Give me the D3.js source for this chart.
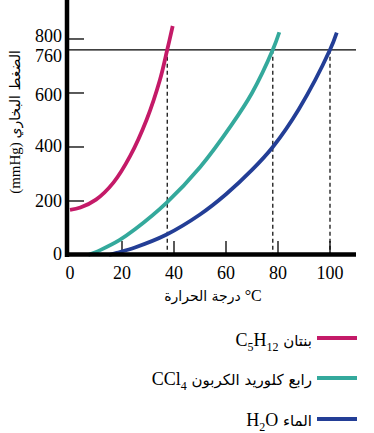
<!DOCTYPE html>
<html><head><meta charset="utf-8">
<script src="https://cdn.jsdelivr.net/npm/d3@7"></script>
<style>
html,body{margin:0;padding:0;background:#fff;}
svg{display:block;}
.num{font-family:"Liberation Serif","Times New Roman",serif;}
.ar{font-family:"DejaVu Sans",sans-serif;}
</style></head>
<body>
<svg id="chart" width="374" height="433"></svg>
<script>
// ---- data ----
const xTicks = [0, 20, 40, 60, 80, 100];
const yTicks = [0, 200, 400, 600, 800];
const refPressure = 760;
const boilingPoints = [37.4, 78, 100];

const pentaneT = [0, 4, 10, 16.7, 23.1, 29.5, 34.6, 37.4, 39.5];
const pentaneP = [167, 176, 205, 268, 366, 502, 649, 760, 848];

const cclT = [7, 12, 19, 25, 37, 50, 62, 70, 78, 80.5];
const cclP = [0, 20, 55, 95, 192, 325, 480, 600, 760, 825];

const waterT = [15, 18, 25, 37, 50, 60, 70, 78, 88, 100, 102.6];
const waterP = [0, 8, 28, 75, 150, 225, 315, 400, 540, 760, 824];

const seriesNames = ["pentane", "ccl4", "water"];
const seriesColors = ["#c41a68", "#34a99c", "#233e96"];

// ---- setup ----
const svg = d3.select("#chart");
const x = d3.scaleLinear().domain([0, 110]).range([70, 356]);
const y = d3.scaleLinear().domain([0, 944.4]).range([255, 0]);

const series = [
  {t: pentaneT, p: pentaneP},
  {t: cclT, p: cclP},
  {t: waterT, p: waterP}
];

// 760 reference line
svg.append("line")
  .attr("x1", 67).attr("x2", x(110))
  .attr("y1", y(refPressure)).attr("y2", y(refPressure))
  .attr("stroke", "#000").attr("stroke-width", 1.3);

// dashed boiling-point lines
svg.selectAll("line.bp").data(boilingPoints).enter().append("line")
  .attr("class", "bp")
  .attr("x1", d => x(d)).attr("x2", d => x(d))
  .attr("y1", y(refPressure)).attr("y2", y(0))
  .attr("stroke", "#000").attr("stroke-width", 1.2)
  .attr("stroke-dasharray", "4,3");

// y axis ticks (inner)
svg.selectAll("line.yt").data(yTicks.filter(d => d > 0)).enter().append("line")
  .attr("class", "yt")
  .attr("x1", 67).attr("x2", 84)
  .attr("y1", d => y(d)).attr("y2", d => y(d))
  .attr("stroke", "#000").attr("stroke-width", 1.3);

// x axis ticks (inner)
svg.selectAll("line.xt").data(xTicks.filter(d => d > 0)).enter().append("line")
  .attr("class", "xt")
  .attr("x1", d => x(d)).attr("x2", d => x(d))
  .attr("y1", 241).attr("y2", y(0))
  .attr("stroke", "#000").attr("stroke-width", 1.3);

// curves
const line = d3.line().x(d => x(d[0])).y(d => y(d[1])).curve(d3.curveCatmullRom.alpha(0.5));
series.forEach((s, i) => {
  svg.append("path")
    .datum(s.t.map((t, j) => [t, s.p[j]]))
    .attr("d", line)
    .attr("fill", "none")
    .attr("stroke", seriesColors[i])
    .attr("stroke-width", 3.8);
});

// axes lines
svg.append("line").attr("x1", 67).attr("x2", 67).attr("y1", 0).attr("y2", 257)
  .attr("stroke", "#000").attr("stroke-width", 4.5);
svg.append("line").attr("x1", 65).attr("x2", x(110)).attr("y1", 254.5).attr("y2", 254.5)
  .attr("stroke", "#000").attr("stroke-width", 4.5);

// y tick labels
const yLabelOffset = {0: 5, 200: 6, 400: 5, 600: 8, 800: 3};
svg.selectAll("text.yl").data(yTicks).enter().append("text")
  .attr("class", "num yl")
  .attr("x", 62).attr("y", d => y(d) + yLabelOffset[d])
  .attr("text-anchor", "end").attr("font-size", 18).attr("fill", "#000")
  .text(d => d);
svg.append("text").attr("class", "num")
  .attr("x", 62).attr("y", y(refPressure) + 12)
  .attr("text-anchor", "end").attr("font-size", 18)
  .text(refPressure);

// x tick labels
svg.selectAll("text.xl").data(xTicks).enter().append("text")
  .attr("class", "num xl")
  .attr("x", d => x(d)).attr("y", 279)
  .attr("text-anchor", "middle").attr("font-size", 18)
  .text(d => d);

// x title
const xt = svg.append("text").attr("x", 213).attr("y", 301).attr("text-anchor", "middle");
xt.append("tspan").attr("class", "ar").attr("font-size", 14).text("درجة الحرارة");
xt.append("tspan").attr("class", "num").attr("font-size", 16).text(" °C");

// y title
const yt = svg.append("text").attr("transform", "translate(20,122) rotate(-90)").attr("text-anchor", "middle");
yt.append("tspan").attr("class", "num").attr("font-size", 15).text("(mmHg) ");
yt.append("tspan").attr("class", "ar").attr("font-size", 14).text("الضغط البخاري");

// legend
const legY = [338, 378, 419];
seriesNames.forEach((n, i) => {
  svg.append("line").attr("x1", 317).attr("x2", 357)
    .attr("y1", legY[i]).attr("y2", legY[i])
    .attr("stroke", seriesColors[i]).attr("stroke-width", 4);
});
function sub(t, s){ t.append("tspan").attr("font-size", 12).attr("dy", 5).text(s); }
function unsub(t, s){ t.append("tspan").attr("dy", -5).text(s); }
// pentane
let t1 = svg.append("text").attr("x", 312).attr("y", legY[0] + 8).attr("text-anchor", "end");
let f1 = t1.append("tspan").attr("class", "num").attr("font-size", 18);
f1.append("tspan").text("C"); sub(f1, "5"); unsub(f1, "H"); sub(f1, "12");
t1.append("tspan").attr("class", "ar").attr("font-size", 15).attr("dy", -5).text(" بنتان");
// ccl4
let t2 = svg.append("text").attr("x", 312).attr("y", legY[1] + 7).attr("text-anchor", "end");
let f2 = t2.append("tspan").attr("class", "num").attr("font-size", 18);
f2.append("tspan").text("CCl"); sub(f2, "4");
t2.append("tspan").attr("class", "ar").attr("font-size", 15).attr("dy", -5).text(" رابع كلوريد الكربون");
// water
let t3 = svg.append("text").attr("x", 312).attr("y", legY[2] + 7).attr("text-anchor", "end");
let f3 = t3.append("tspan").attr("class", "num").attr("font-size", 18);
f3.append("tspan").text("H"); sub(f3, "2"); unsub(f3, "O");
t3.append("tspan").attr("class", "ar").attr("font-size", 15).text(" الماء");
</script>
</body></html>
